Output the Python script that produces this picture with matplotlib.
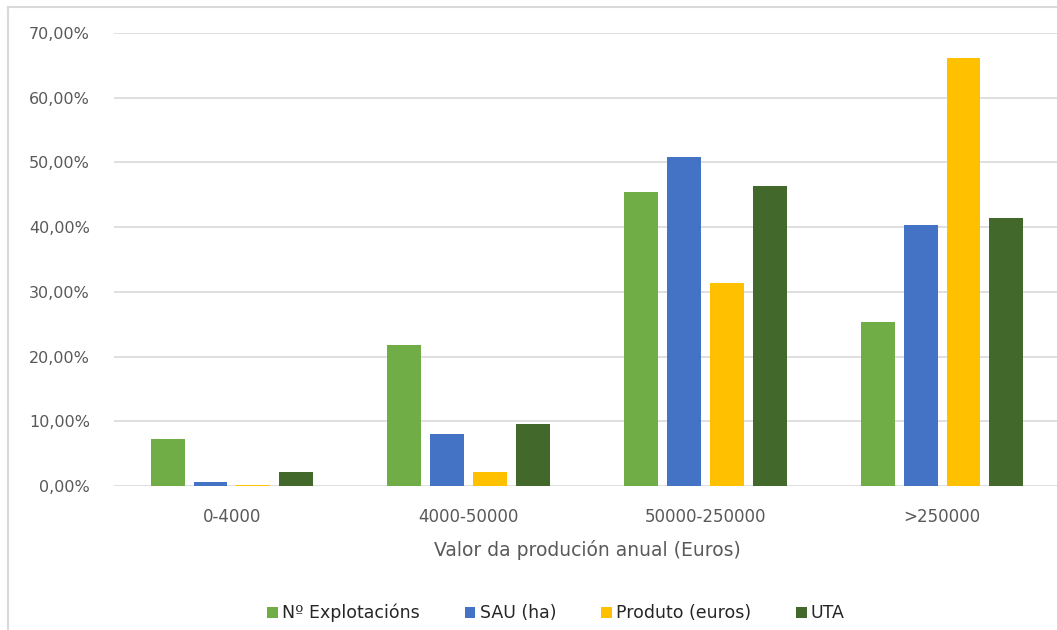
import matplotlib
matplotlib.use("Agg")
import matplotlib.pyplot as plt
import numpy as np
from matplotlib.lines import Line2D
from matplotlib.ticker import FuncFormatter

# data (shares, %)
categories = ["0-4000", "4000-50000", "50000-250000", ">250000"]
series_names = ["Nº Explotacións", "SAU (ha)", "Produto (euros)", "UTA"]
explotacions = [7.3, 21.8, 45.4, 25.4]
sau = [0.6, 8.0, 50.9, 40.3]
produto = [0.1, 2.2, 31.4, 66.2]
uta = [2.2, 9.6, 46.4, 41.4]
colors = ["#70AD47", "#4472C4", "#FFC000", "#43682B"]

TEXT = "#595959"
GRID = "#D9D9D9"
W, H = 1057, 630

plt.rcParams["font.family"] = ["DejaVu Sans"]

fig = plt.figure(figsize=(W / 100, H / 100), dpi=100)
ax = fig.add_axes([113.5 / W, 1 - 486 / H, (1060.5 - 113.5) / W, (486 - 33) / H])

x = np.arange(len(categories), dtype=float)
width = 0.143
step = 0.181
handles = []
for i, (values, color) in enumerate(zip([explotacions, sau, produto, uta], colors)):
    pos = x + (i - 1.5) * step
    bars = ax.bar(pos, np.array(values) / 100.0, width, color=color, zorder=3)
    handles.append(bars)

ax.set_xlim(-0.5, len(categories) - 0.5)
ax.set_ylim(0, 0.70)
ax.set_yticks(np.arange(0, 0.71, 0.10))
ax.yaxis.set_major_formatter(
    FuncFormatter(lambda v, _: f"{v * 100:.2f}%".replace(".", ","))
)
ax.set_xticks(x, labels=categories)
ax.tick_params(axis="y", length=0, colors=TEXT, labelsize=11.5, pad=17)
ax.tick_params(axis="x", length=0, colors=TEXT, labelsize=12, pad=16)
ax.grid(axis="y", color=GRID, linewidth=1.2, zorder=0)
ax.set_axisbelow(True)
for spine in ax.spines.values():
    spine.set_visible(False)
ax.set_xlabel("Valor da produción anual (Euros)", color=TEXT, fontsize=13.5, labelpad=10)

fig.legend(
    handles,
    series_names,
    loc="center",
    bbox_to_anchor=(556 / W, 1 - 613 / H),
    ncol=4,
    frameon=False,
    fontsize=12.5,
    labelcolor="#262626",
    handlelength=0.6,
    handleheight=0.6,
    handletextpad=0.25,
    columnspacing=2.6,
)

# chart-area border (left and top edges visible)
fig.add_artist(Line2D([7.5 / W, 7.5 / W], [0, 1 - 7 / H], color="#D9D9D9", linewidth=1.5))
fig.add_artist(Line2D([7.5 / W, 1], [1 - 7 / H, 1 - 7 / H], color="#D9D9D9", linewidth=1.5))

fig.savefig("out.png", dpi=100, facecolor="white")
